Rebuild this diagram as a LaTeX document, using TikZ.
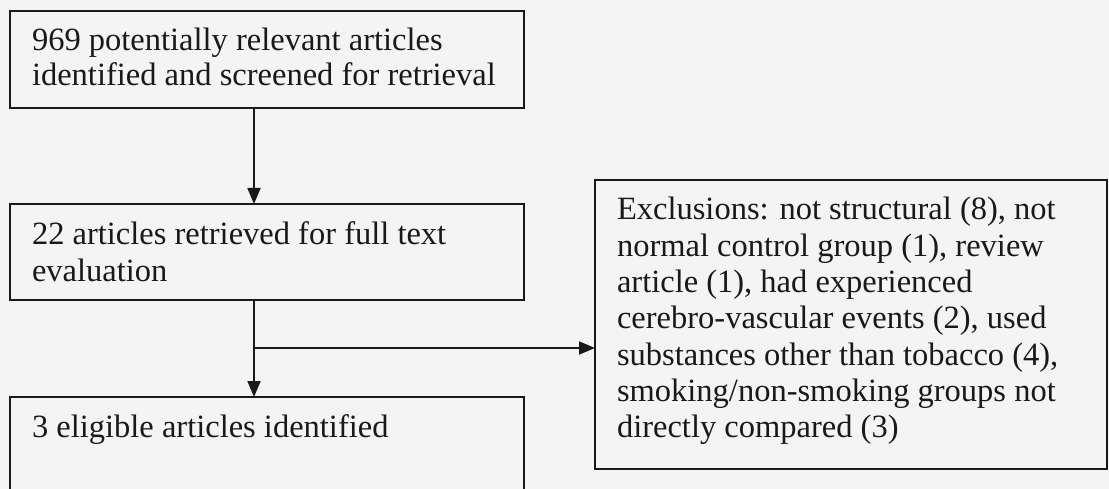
\documentclass[tikz,border=0pt]{standalone}
\usepackage{fontspec}
\setmainfont{Liberation Serif}
\usetikzlibrary{arrows.meta}
\definecolor{bg}{RGB}{244,244,244}
\definecolor{ink}{RGB}{25,25,25}
\newcommand{\mylines}[2]{\vtop{\baselineskip=#1pt\lineskiplimit=-100pt #2}}
\tikzset{
  box/.style={draw=ink, line width=1.8pt, rectangle, inner sep=0pt, outer sep=0pt, anchor=north west},
  txt/.style={anchor=base west, inner sep=0pt, outer sep=0pt, text=ink, font=\fontsize{32.5}{36}\selectfont},
  arr/.style={draw=ink, line width=1.8pt, -{Triangle[length=16pt,width=13pt]}},
  ln/.style={draw=ink, line width=1.8pt}
}
\begin{document}
\begin{tikzpicture}[x=1pt,y=-1pt]
\fill[bg] (0,0) rectangle (1109,489);
\useasboundingbox (0,0) rectangle (1109,489);
\clip (0,0) rectangle (1109,489);
% boxes
\node[box, minimum width=514pt, minimum height=97pt] (b1) at (10,11) {};
\node[box, minimum width=514pt, minimum height=96pt] (b2) at (10,204) {};
\node[box, minimum width=514pt, minimum height=130pt] (b3) at (10,397) {};
\node[box, minimum width=512pt, minimum height=289pt] (ex) at (595,180) {};
% texts
\node[txt] (t1) at (32,51) {\mylines{34.5}{\hbox{969 potentially relevant articles}\hbox{identified and screened for retrieval}}};
\node[txt] (t2) at (32,245) {\mylines{37}{\hbox{22 articles retrieved for full text}\hbox{evaluation}}};
\node[txt] (t3) at (32,437) {3 eligible articles identified};
\node[txt] (t4) at (617,220) {\mylines{36.3}{%
\hbox{Exclusions: not structural (8), not}%
\hbox{normal control group (1), review}%
\hbox{article (1), had experienced}%
\hbox{cerebro-vascular events (2), used}%
\hbox{substances other than tobacco (4),}%
\hbox{smoking/non-smoking groups not}%
\hbox{directly compared (3)}}};
% connectors
\coordinate (c1) at (254,0);
\coordinate (c2) at (254,348);
\draw[arr] (b1.south -| c1) -- (b2.north -| c1);
\draw[arr] (b2.south -| c2) -- (b3.north -| c2);
\draw[arr] (c2) -- (ex.west |- c2);
\end{tikzpicture}
\end{document}
